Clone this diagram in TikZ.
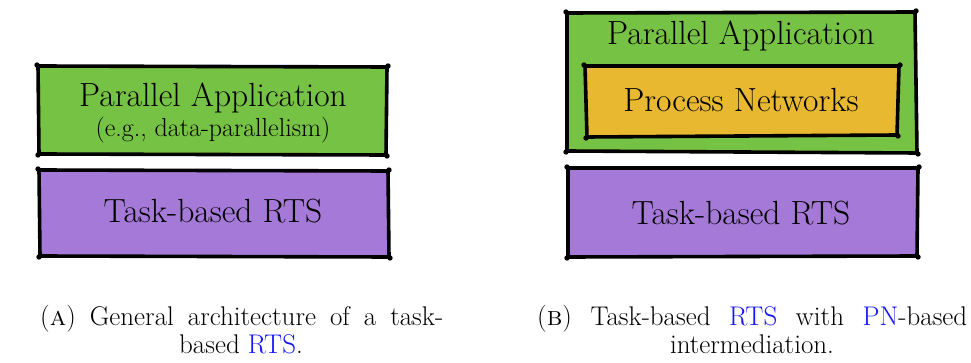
\documentclass[tikz,border=0pt]{standalone}
\usepackage{xcolor}
\definecolor{appgreen}{RGB}{118,194,68}
\definecolor{rtspurple}{RGB}{165,121,215}
\definecolor{pnorange}{RGB}{231,184,48}
\definecolor{linkblue}{RGB}{20,20,255}
\begin{document}
\begin{tikzpicture}[x=1pt,y=-1pt,
  sketch/.style={draw=black,line width=3.6pt,line join=round,line cap=round},
  corner/.style={fill=black},
  big/.style={font=\fontsize{33.5}{40}\selectfont,anchor=base,inner sep=0pt},
  small/.style={font=\fontsize{26}{30}\selectfont,anchor=base,inner sep=0pt},
  captext/.style={font=\fontsize{27}{32}\selectfont,anchor=base,inner sep=0pt}]
\useasboundingbox (0,0) rectangle (971,363);
% ---- left figure ----
\filldraw[sketch,fill=appgreen] (38,66) -- (387,67) -- (386,155) -- (39,154) -- cycle;
\foreach \p in {(37,65),(388,66),(387,156),(38,155)} \fill[corner] \p circle (2.7pt);
\filldraw[sketch,fill=rtspurple] (39,170) -- (388,171) -- (389,257) -- (40,256) -- cycle;
\foreach \p in {(38,169),(389,170),(390,258),(39,257)} \fill[corner] \p circle (2.7pt);
\node[big] (lapp) at (213,107) {Parallel Application};
\node[small] (lsub) at (213,137) {(e.g., data-parallelism)};
\node[big] (lrts) at (213,223) {Task-based RTS};
% ---- right figure ----
\filldraw[sketch,fill=appgreen] (567,13) -- (915,12) -- (917,153) -- (567,151) -- cycle;
\foreach \p in {(566,12),(916,11),(918,154),(566,152)} \fill[corner] \p circle (2.7pt);
\filldraw[sketch,fill=pnorange] (585,66) -- (899,66) -- (897,135) -- (587,137) -- cycle;
\foreach \p in {(584,65),(900,65),(898,136),(586,138)} \fill[corner] \p circle (2.7pt);
\filldraw[sketch,fill=rtspurple] (568,168) -- (918,168) -- (917,256) -- (568,257) -- cycle;
\foreach \p in {(567,167),(919,167),(918,257),(567,258)} \fill[corner] \p circle (2.7pt);
\node[big] (rapp) at (741,45) {Parallel Application};
\node[big] (rpn) at (741,112) {Process Networks};
\node[big] (rrts) at (741,225) {Task-based RTS};
% ---- captions ----
\node[captext,anchor=base west] (capa1) at (40,325) {\makebox[403pt][s]{(\textsc{a})\ General architecture of a task-}};
\node[captext] (capa2) at (241,353) {based \textcolor{linkblue}{RTS}.};
\node[captext,anchor=base west] (capb1) at (537,325) {\makebox[430pt][s]{(\textsc{b})\ Task-based \textcolor{linkblue}{RTS} with \textcolor{linkblue}{PN}-based}};
\node[captext] (capb2) at (752,353) {intermediation.};
\end{tikzpicture}
\end{document}
